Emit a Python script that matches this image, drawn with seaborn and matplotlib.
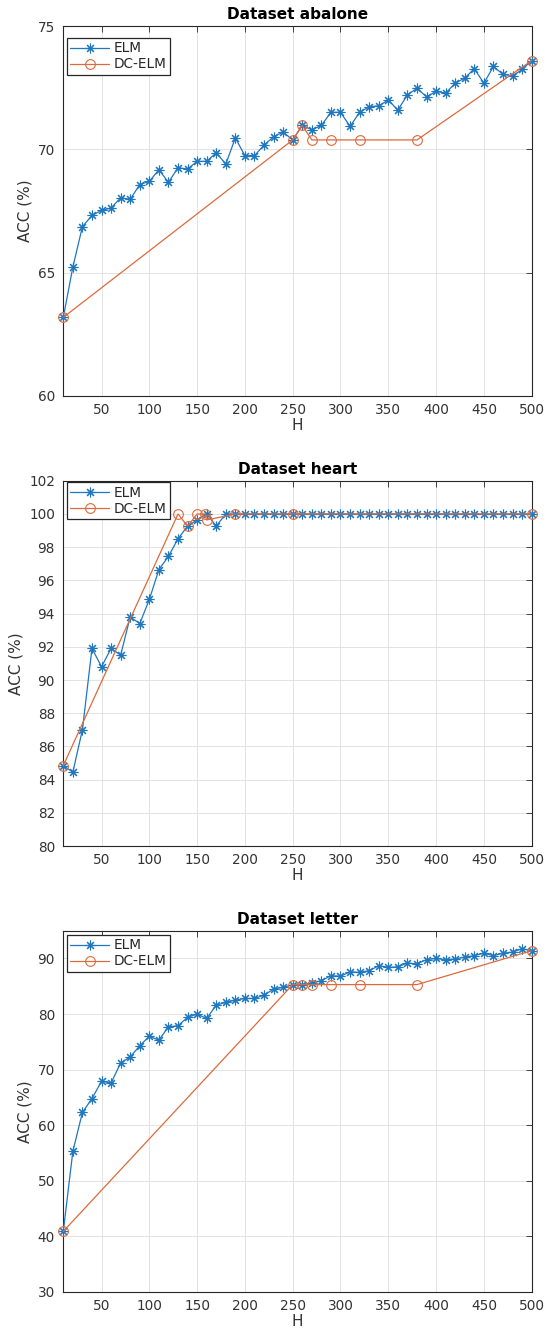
import numpy as np
import pandas as pd
import matplotlib
matplotlib.use("Agg")
import matplotlib.pyplot as plt
import seaborn as sns

# -------------------------------
# Data
# -------------------------------
H = list(range(10, 501, 10))

abalone_elm = [63.18, 65.22, 66.86, 67.32, 67.52, 67.62, 68.03, 67.97, 68.57, 68.70,
               69.17, 68.66, 69.25, 69.20, 69.51, 69.51, 69.86, 69.40, 70.46, 69.74,
               69.74, 70.17, 70.51, 70.70, 70.38, 70.97, 70.79, 70.97, 71.50, 71.50,
               70.93, 71.50, 71.73, 71.76, 72.00, 71.59, 72.21, 72.47, 72.13, 72.35,
               72.28, 72.68, 72.89, 73.27, 72.68, 73.36, 73.04, 72.98, 73.24, 73.60]
abalone_dc_h = [10, 250, 260, 270, 290, 320, 380, 500]
abalone_dc = [63.18, 70.38, 70.97, 70.38, 70.38, 70.38, 70.38, 73.60]

heart_elm = [84.85, 84.45, 87.00, 91.90, 90.80, 91.90, 91.50, 93.80, 93.40, 94.85,
             96.65, 97.45, 98.50, 99.27, 99.64, 100.0, 99.27] + [100.0] * 33
heart_dc_h = [10, 130, 140, 150, 158, 160, 190, 250, 500]
heart_dc = [84.85, 100.0, 99.27, 100.0, 100.0, 99.64, 100.0, 100.0, 100.0]

letter_elm = [40.9, 55.3, 62.3, 64.8, 67.9, 67.6, 71.2, 72.3, 74.3, 76.0,
              75.3, 77.7, 77.9, 79.4, 80.0, 79.2, 81.6, 82.1, 82.5, 82.8,
              82.8, 83.4, 84.5, 84.8, 85.3, 85.3, 85.6, 86.0, 86.9, 86.8,
              87.6, 87.5, 87.8, 88.7, 88.4, 88.5, 89.2, 89.0, 89.8, 90.0,
              89.75, 89.9, 90.25, 90.5, 90.95, 90.5, 90.95, 91.15, 91.75, 91.4]
letter_dc_h = [10, 250, 260, 270, 290, 320, 380, 500]
letter_dc = [40.9, 85.3, 85.3, 85.3, 85.3, 85.3, 85.3, 91.4]

x_ticks = list(range(50, 501, 50))

# -------------------------------
# Style
# -------------------------------
sns.set_style("whitegrid")
plt.rcParams['font.family'] = ['DejaVu Sans']

ELM_COLOR = "#1f77c0"
DC_COLOR = "#dd6a3c"
DARK = "#262626"
ASTERISK = (8, 2, 0)

fig = plt.figure(figsize=(5.48, 13.37), dpi=100)

panels = [
    # title, elm, dc_h, dc, ylim, yticks, axes rect, legend top
    ("Dataset abalone", abalone_elm, abalone_dc_h, abalone_dc, (60, 75), list(range(60, 76, 5)),
     [0.1155, 0.7040, 0.8547, 0.2765], 0.968),
    ("Dataset heart", heart_elm, heart_dc_h, heart_dc, (80, 102), list(range(80, 103, 2)),
     [0.1155, 0.3672, 0.8547, 0.2732], 0.996),
    ("Dataset letter", letter_elm, letter_dc_h, letter_dc, (30, 95), list(range(30, 91, 10)),
     [0.1155, 0.0337, 0.8547, 0.2702], 0.988),
]

for title, elm, dc_h, dc, ylim, yticks, rect, leg_top in panels:
    ax = fig.add_axes(rect)
    elm_df = pd.DataFrame({"H": H, "ACC": elm})
    dc_df = pd.DataFrame({"H": dc_h, "ACC": dc})

    sns.lineplot(data=elm_df, x="H", y="ACC", ax=ax, color=ELM_COLOR, linewidth=0.9,
                 marker=ASTERISK, markersize=7, markeredgecolor=ELM_COLOR,
                 markeredgewidth=0.8, label="ELM", sort=False, clip_on=False, zorder=3)
    sns.lineplot(data=dc_df, x="H", y="ACC", ax=ax, color=DC_COLOR, linewidth=0.9,
                 marker="o", markersize=7, markerfacecolor="none", markeredgecolor=DC_COLOR,
                 markeredgewidth=0.8, label="DC-ELM", sort=False, clip_on=False, zorder=3)

    ax.set_xlim(10, 500)
    ax.set_ylim(*ylim)
    ax.set_xticks(x_ticks)
    ax.set_yticks(yticks)
    ax.grid(True, color="#dedede", linewidth=0.6)
    ax.set_facecolor("white")
    for sp in ax.spines.values():
        sp.set_color(DARK)
        sp.set_linewidth(0.8)
        sp.set_visible(True)
    ax.tick_params(direction="in", top=True, right=True, length=4, width=0.6,
                   color=DARK, labelcolor="#333333", labelsize=9.8)
    ax.tick_params(axis="x", pad=5)
    ax.tick_params(axis="y", pad=6)

    ax.set_title(title, fontsize=11, fontweight="bold", color="black", pad=5)
    ax.set_xlabel("H", fontsize=11, color="#333333", labelpad=1)
    ax.set_ylabel("ACC (%)", fontsize=11, color="#333333", labelpad=4)

    leg = ax.legend(loc="upper left", bbox_to_anchor=(0.007, leg_top), borderaxespad=0,
                    fontsize=9.8, fancybox=False, framealpha=1, edgecolor=DARK,
                    handlelength=2.9, handletextpad=0.3, labelspacing=0.15,
                    borderpad=0.25)
    leg.get_frame().set_linewidth(0.9)
    leg.set_zorder(5)

fig.savefig("out.png", dpi=100)
